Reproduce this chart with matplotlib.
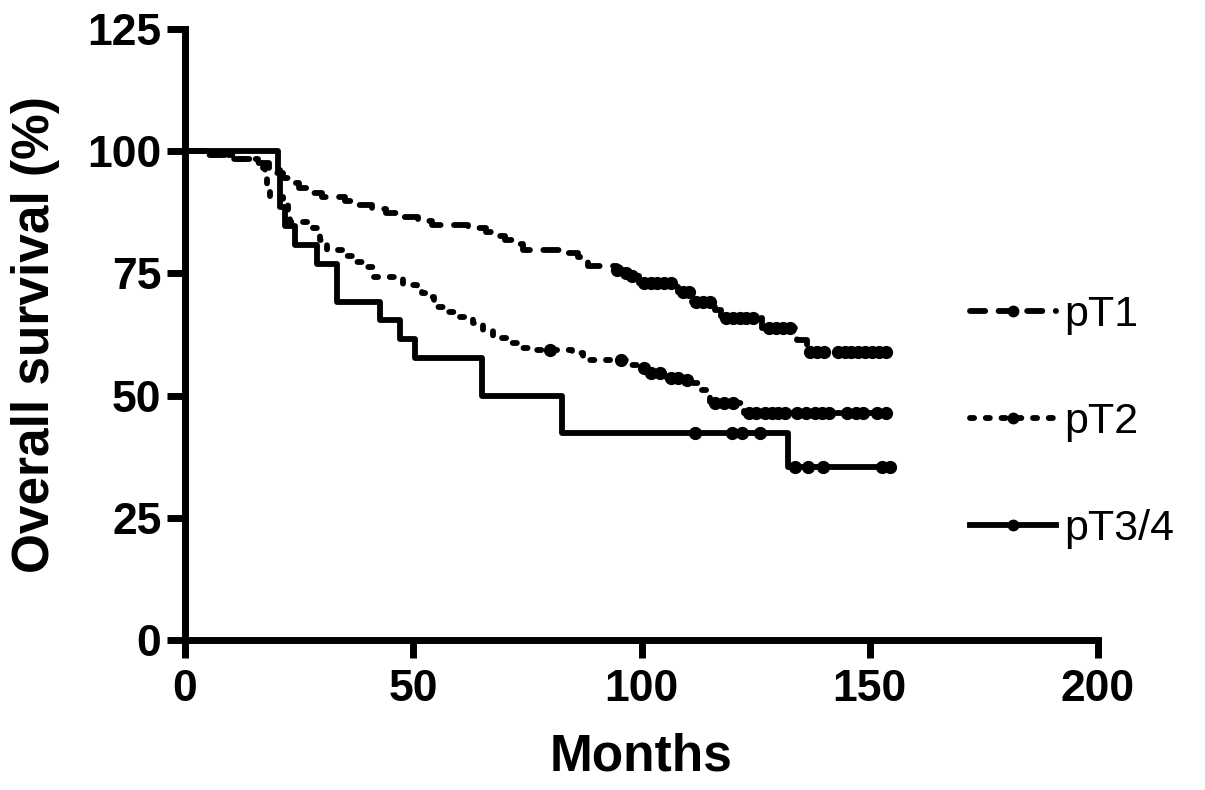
import numpy as np
import matplotlib
matplotlib.use("Agg")
import matplotlib.pyplot as plt
from matplotlib import font_manager
from matplotlib.lines import Line2D

# ---------------- data ----------------
pt1_times = [0, 3.5, 9, 16, 18.5, 20, 21.5, 23, 25, 27, 30, 35, 38, 41, 44, 47, 51, 54, 62, 66,
             68, 70, 72, 74, 84, 86, 88.3, 94.6, 96, 97.5, 99.5, 108, 111, 116, 117.5, 126.5, 134, 136.2]
pt1_surv = [100, 99.3, 98.5, 97.6, 96.6, 95.6, 94.6, 93.5, 92.5, 91.5, 90.6, 89.8, 89.0, 88.2, 87.4,
            86.6, 85.8, 85.0, 84.2, 83.4, 82.6, 81.8, 81.0, 79.8, 79.2, 78.3, 76.5, 75.7, 75.0, 74.4,
            73.0, 71.2, 69.1, 67.5, 65.8, 63.8, 61.3, 58.9]
pt1_end = 154.5
pt1_censor = [94.6, 96.5, 98, 100.5, 102, 103.5, 105, 106.5, 109, 110.5, 112, 113.5, 115, 118.5, 120,
              121.5, 123, 124.5, 128, 129.5, 131, 132.5, 137, 138.5, 140, 143, 144.5, 146, 147.5, 149,
              150.5, 152, 153.5]

pt2_times = [0, 5, 12, 16, 17, 17.5, 18, 18.6, 21.5, 22.5, 23, 28, 29.6, 31, 35.5, 36.8, 39.4, 41.2,
             47.8, 50.8, 52, 53, 54.5, 55.2, 57.4, 60.2, 63, 65.3, 67.5, 70.5, 73.4, 76, 84.8, 87.2,
             96.5, 99.7, 101, 105.6, 109, 111.3, 112.5, 115, 122.5]
pt2_surv = [100, 99.2, 98.5, 97.5, 96.5, 94.5, 93.0, 90.6, 89.0, 87.2, 85.5, 84.3, 81.8, 79.8, 78.5,
            77.3, 76.3, 74.2, 72.6, 72.0, 71.0, 70.1, 69.1, 68.1, 67.1, 66.0, 64.8, 63.4, 61.8, 60.7,
            59.7, 59.3, 58.7, 57.3, 56.2, 55.6, 54.6, 53.6, 53.2, 52.6, 51.1, 48.5, 46.4]
pt2_end = 154
pt2_censor = [80, 95.5, 100.5, 102, 104, 106.5, 108, 110, 116, 118, 120, 123.5, 125, 127, 128.5, 130,
              131.5, 134, 136, 138, 139.5, 141, 145, 147, 148.5, 151.5, 153.5]

pt34_times = [0, 20.3, 20.8, 22.0, 24.0, 29.0, 33.3, 42.7, 47.0, 50.3, 65.0, 82.6, 132.0]
pt34_surv = [100, 96.2, 88.5, 84.6, 80.8, 76.9, 69.2, 65.4, 61.5, 57.7, 50.0, 42.3, 35.3]
pt34_end = 155
pt34_censor = [111.7, 119.8, 122, 126, 133.6, 136.5, 139.8, 152.7, 154.4]

labels = ["pT1", "pT2", "pT3/4"]
x_ticks = [0, 50, 100, 150, 200]
y_ticks = [0, 25, 50, 75, 100, 125]

# ---------------- fonts ----------------
names = {f.name for f in font_manager.fontManager.ttflist}
narrow = "Liberation Sans Narrow" if "Liberation Sans Narrow" in names else "Liberation Sans"
regular = "Liberation Sans"

fig = plt.figure(figsize=(12.05, 7.9), dpi=100)
ax = fig.add_axes([185 / 1205, 150 / 790, 913 / 1205, 611 / 790])

LW = 4.2
styles = [(0, (2.6, 2.3)), (0, (0.7, 2.0)), "-"]
series = [(pt1_times, pt1_surv, pt1_end, pt1_censor),
          (pt2_times, pt2_surv, pt2_end, pt2_censor),
          (pt34_times, pt34_surv, pt34_end, pt34_censor)]

handles = []
for (t, s, end, cens), ls, lab in zip(series, styles, labels):
    tt = np.array(t + [end], dtype=float)
    ss = np.array(s + [s[-1]], dtype=float)
    ax.step(tt, ss, where="post", color="black", lw=LW, linestyle=ls,
            dash_capstyle="round", solid_capstyle="butt", zorder=3)
    c = np.array(cens, dtype=float)
    idx = np.searchsorted(np.array(t, dtype=float), c, side="right") - 1
    cy = np.array(s, dtype=float)[idx]
    ax.plot(c, cy, linestyle="none", marker="o", ms=8.5, color="black", zorder=4)
    handles.append(Line2D([], [], color="black", lw=LW, linestyle=ls, dash_capstyle="round",
                          marker="o", ms=7.5))

ax.set_xlim(0, 200)
ax.set_ylim(0, 125)
ax.set_xticks(x_ticks)
ax.set_yticks(y_ticks)
for sp in ["top", "right"]:
    ax.spines[sp].set_visible(False)
for sp in ["left", "bottom"]:
    ax.spines[sp].set_linewidth(5)
    ax.spines[sp].set_capstyle("projecting")
ax.tick_params(axis="both", direction="out", length=13, width=5, color="black")
ax.tick_params(axis="y", pad=4)
ax.tick_params(axis="x", pad=8)
for lbl in ax.get_xticklabels():
    lbl.set_fontfamily(narrow)
    lbl.set_fontweight("bold")
    lbl.set_fontsize(32)
for lbl in ax.get_yticklabels():
    lbl.set_fontfamily(narrow)
    lbl.set_fontweight("bold")
    lbl.set_fontsize(32)

ax.set_xlabel("Months", fontfamily=narrow, fontweight="bold", fontsize=37)
ax.xaxis.set_label_coords(0.5, -0.152)
ax.set_ylabel("Overall survival (%)", fontfamily=regular, fontweight="bold", fontsize=37)
ax.yaxis.set_label_coords(-0.137, 0.5)

leg = fig.legend(handles, labels, loc="center left", bbox_to_anchor=(970 / 1205, 1 - 422 / 790),
                 frameon=False, prop={"family": regular, "size": 31}, handlelength=2.0,
                 handletextpad=0.2, labelspacing=1.56, borderpad=0, borderaxespad=0, numpoints=1)

fig.savefig("out.png", dpi=100)
